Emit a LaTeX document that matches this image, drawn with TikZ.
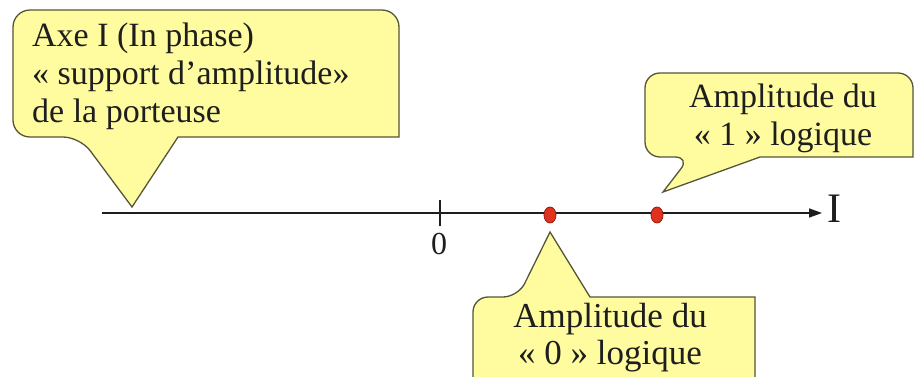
\documentclass[tikz,border=0pt]{standalone}
\usepackage{fontspec}
\setmainfont{Liberation Serif}
\usetikzlibrary{arrows.meta,shapes.geometric}
\definecolor{callfill}{RGB}{255,252,160}
\definecolor{callline}{RGB}{85,85,55}
\definecolor{dotred}{RGB}{225,50,30}
\definecolor{dotline}{RGB}{150,30,20}
\definecolor{inkc}{RGB}{30,30,30}
\begin{document}
\begin{tikzpicture}[x=1pt,y=-1pt,
  callbox/.style={fill=callfill,draw=callline,line width=1.3pt},
  calltext/.style={inner sep=0pt,font=\fontsize{34}{38}\selectfont,text=inkc},
  reddot/.style={ellipse,minimum width=12pt,minimum height=16pt,inner sep=0pt,fill=dotred,draw=dotline,line width=0.8pt},
  axisline/.style={line width=1.6pt,draw=inkc,-{Triangle[length=13pt,width=9pt]}},
  tickline/.style={line width=1.4pt,draw=inkc},
  axislabel/.style={inner sep=0pt,text=inkc}]
\useasboundingbox (0,0) rectangle (916,376);
\clip (0,0) rectangle (916,376);

% axis
\coordinate (a0) at (102,213);
\coordinate (a1) at (822,213);
\draw[axisline] (a0) -- (a1);
\node[axislabel,anchor=base,font=\fontsize{42}{42}\selectfont] (lblI) at (834,222) {I};
\coordinate (t0) at (440,200);
\coordinate (t1) at (440,226);
\draw[tickline] (t0) -- (t1);
\node[axislabel,font=\fontsize{32}{32}\selectfont] (lbl0) at (439,244) {0};

% dots
\node[reddot] (d0) at (550,215) {};
\node[reddot] (d1) at (657,215) {};

% top-left callout
\coordinate (tip0) at (132,207);
\draw[callbox] (200,10) [rounded corners=17pt] -- (13,10) -- (13,137) -- (80,137)
  [sharp corners] -- (tip0) -- (178,137) -- (399,137)
  [rounded corners=17pt] -- (399,10) -- cycle;
\node[calltext,anchor=north west,align=left] (tl) at (32,23)
  {Axe I (In phase)\\« support d’amplitude»\\de la porteuse};

% top-right callout
\coordinate (tip1) at ([shift={(6,-23)}]d1.center);
\draw[callbox] (780,73) [rounded corners=15pt] -- (645,73) -- (645,157) -- (690,157)
  [sharp corners] -- (tip1) -- (760,157) -- (913,157)
  [rounded corners=15pt] -- (913,73) -- cycle;
\node[calltext,anchor=north,align=center] (tr) at (783,84)
  {Amplitude du\\« 1 » logique};

% bottom callout
\coordinate (tip2) at ([shift={(0,17)}]d0.center);
\draw[callbox] (473,340) [rounded corners=15pt] -- (473,297) -- (518,297)
  [sharp corners] -- (tip2) -- (590,297) -- (755,297)
  [rounded corners=15pt] -- (755,400) -- (473,400) -- cycle;
\node[calltext,anchor=north,align=center,font=\fontsize{35}{37}\selectfont] (bt) at (610,303)
  {Amplitude du\\« 0 » logique};
\end{tikzpicture}
\end{document}
